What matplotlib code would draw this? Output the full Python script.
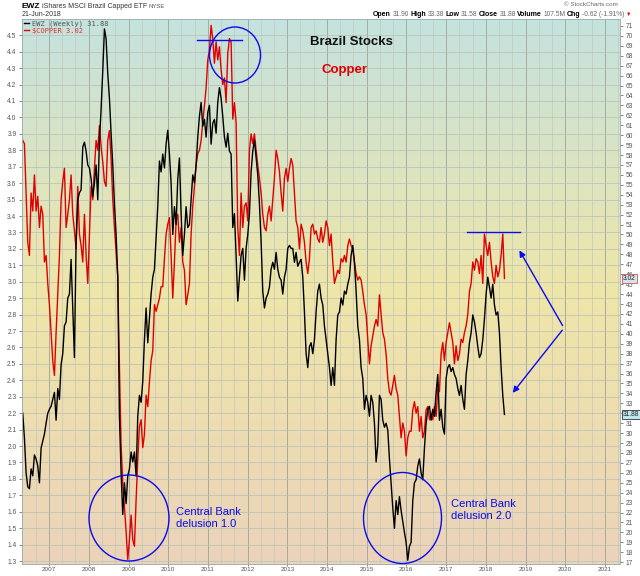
import numpy as np
import pandas as pd
import matplotlib
matplotlib.use("Agg")
import matplotlib.pyplot as plt
import matplotlib.dates as mdates
import matplotlib.transforms as mtransforms
from matplotlib.patches import Ellipse, FancyArrowPatch
from matplotlib.lines import Line2D
from matplotlib.colors import LinearSegmentedColormap

plt.rcParams['font.family'] = ['Liberation Sans', 'DejaVu Sans']

# weekly-ish readings, May 2006 -> 21 Jun 2018
copper = [
    3.86, 3.84, 3.54, 3.24, 3.16, 3.54, 3.43, 3.65, 3.43, 3.52,
    3.33, 3.46, 3.41, 3.12, 3.16, 2.99, 2.86, 2.69, 2.52, 2.43,
    2.69, 2.92, 3.16, 3.50, 3.61, 3.69, 3.33, 3.41, 3.50, 3.65,
    3.41, 3.31, 3.20, 3.58, 3.29, 3.22, 3.12, 3.41, 3.16, 2.99,
    3.29, 3.58, 3.50, 3.69, 3.86, 3.80, 3.95, 3.82, 3.73, 3.61,
    3.58, 3.86, 3.92, 3.75, 3.50, 3.33, 3.18, 3.03, 2.48, 2.01,
    1.77, 1.63, 1.48, 1.31, 1.43, 1.58, 1.43, 1.39, 1.67, 1.92,
    2.12, 2.16, 1.99, 2.07, 2.31, 2.24, 2.39, 2.52, 2.58, 2.86,
    2.82, 2.86, 2.90, 2.97, 2.97, 3.14, 3.29, 3.35, 3.39, 3.16,
    2.90, 3.12, 3.37, 3.41, 3.24, 3.33, 3.12, 3.07, 2.86, 2.92,
    2.99,
    3.29, 3.46, 3.58, 3.71, 3.78, 3.80, 3.86, 3.97, 4.07, 4.18,
    4.35, 4.41, 4.56, 4.48, 4.33, 4.46, 4.35, 4.43, 4.29, 4.20,
    4.24, 4.09, 4.39, 4.48, 4.46, 3.99, 4.09, 3.97, 3.33, 3.16,
    3.54, 3.33, 3.46, 3.48, 3.37, 3.80, 3.90, 3.84, 3.90, 3.80,
    3.71, 3.63, 3.54, 3.41, 3.33, 3.31, 3.41, 3.46, 3.37, 3.50,
    3.63, 3.80, 3.75, 3.67, 3.54, 3.43, 3.63, 3.69, 3.61, 3.69,
    3.75, 3.71, 3.54, 3.37, 3.33, 3.20, 3.35, 3.31, 3.24, 3.12,
    3.05, 3.14, 3.33, 3.35, 3.29, 3.31, 3.26, 3.24, 3.33, 3.24,
    3.29, 3.37, 3.33, 3.22, 3.29, 3.12, 2.99, 3.03, 3.07, 3.05,
    3.14, 3.12, 3.16, 3.12, 3.22, 3.26,
    3.22, 3.20, 3.12, 3.05, 3.01, 3.03, 3.01, 2.94, 2.86, 2.80,
    2.65, 2.50, 2.61, 2.67, 2.73, 2.77, 2.73, 2.92, 2.80, 2.69,
    2.65, 2.56, 2.41, 2.33, 2.31, 2.37, 2.43, 2.35, 2.31, 2.18,
    2.05, 2.14, 2.09, 1.94, 2.05, 2.09, 2.09, 2.22, 2.27, 2.20,
    2.24, 2.09, 2.18, 2.05, 2.09, 2.22, 2.24, 2.16, 2.20, 2.16,
    2.24, 2.18, 2.35, 2.33, 2.56, 2.63, 2.52, 2.63, 2.69, 2.75,
    2.69, 2.63, 2.50, 2.61, 2.52, 2.56, 2.65, 2.63, 2.69, 2.73,
    2.80, 2.94, 2.99, 3.12, 3.07, 3.14, 3.12, 3.05, 3.16, 2.99,
    3.29, 3.22, 3.16, 3.24, 3.12, 3.03, 2.99, 3.10, 3.03, 3.07,
    3.16, 3.29, 3.02,
]

ewz = [
    32.0, 29.5, 26.0, 24.6, 24.4, 26.4, 25.7, 27.8, 27.4, 26.7,
    25.0, 28.5, 29.2, 29.9, 31.0, 32.0, 32.4, 32.7, 33.4, 34.1,
    31.3, 34.5, 33.4, 36.9, 38.0, 40.8, 41.2, 43.6, 44.0, 47.5,
    42.6, 37.6, 49.3, 53.5, 54.2, 54.5, 58.8, 59.3, 58.4, 57.0,
    56.7, 55.6, 53.8, 55.2, 57.0, 53.5, 59.5, 62.6, 66.5, 70.7,
    69.7, 66.2, 63.7, 60.2, 57.0, 53.1, 50.0, 45.7, 31.7, 26.0,
    21.8, 25.0, 22.9, 25.7, 26.4, 28.1, 27.1, 28.1, 25.7, 31.7,
    33.8, 33.1, 35.2, 39.4, 42.6, 39.1, 41.5, 44.0, 45.7, 46.5,
    49.6, 52.8, 57.4, 56.3, 58.1, 56.7, 59.1, 60.5, 58.1, 55.2,
    50.0, 52.8, 51.0, 55.6, 57.7, 52.1, 47.9, 50.0, 52.8, 50.7,
    51.0,
    53.5, 56.0, 55.2, 57.0, 59.8, 61.9, 63.3, 60.9, 61.6, 59.8,
    62.3, 63.0, 59.1, 61.2, 61.6, 60.2, 63.3, 64.8, 63.7, 61.9,
    59.8, 58.8, 60.2, 58.4, 58.1, 50.7, 52.1, 47.9, 43.3, 45.7,
    47.9, 48.6, 45.4, 48.6, 50.0, 52.1, 56.3, 58.4, 59.5, 57.7,
    56.0, 53.1, 49.3, 44.3, 42.6, 43.6, 44.0, 44.7, 46.5, 47.2,
    46.5, 48.2, 46.5, 45.7, 45.4, 44.0, 45.7, 46.5, 48.6, 48.9,
    48.6, 48.6, 47.2, 48.2, 46.8, 47.2, 47.5, 45.7, 42.2, 38.0,
    36.6, 38.7, 39.1, 38.0, 39.4, 42.2, 44.3, 45.0, 43.6, 42.9,
    40.8, 39.4, 38.0, 36.6, 34.8, 36.6, 34.8, 39.4, 41.9, 42.2,
    43.6, 42.9, 44.3, 44.0, 45.0, 45.7,
    47.9, 48.9, 47.2, 44.3, 40.8, 39.4, 36.6, 35.5, 32.4, 33.8,
    33.1, 31.7, 33.8, 33.1, 31.0, 27.1, 28.8, 33.8, 33.4, 31.3,
    30.6, 31.0, 30.3, 27.4, 25.0, 22.5, 20.4, 23.2, 21.8, 23.6,
    22.2, 21.1, 20.0, 19.0, 17.2, 18.6, 19.0, 23.2, 25.0, 25.3,
    26.7, 27.4, 26.0, 25.3, 28.5, 31.0, 32.4, 32.7, 31.3, 32.4,
    31.7, 34.1, 35.9, 31.3, 32.4, 30.6, 29.9, 35.5, 36.6, 36.9,
    36.2, 36.6, 35.9, 35.5, 34.5, 33.8, 34.8, 33.4, 32.4, 35.9,
    37.3, 39.1, 40.1, 41.9, 41.2, 40.1, 38.7, 37.6, 38.0, 39.4,
    41.5, 44.0, 45.7, 44.7, 43.6, 45.0, 42.9, 41.9, 42.2, 40.1,
    36.6, 33.8, 31.88,
]

dates = pd.date_range("2006-05-04", "2018-06-21", periods=len(ewz))

copper_ticks = np.round(np.arange(1.3, 4.55, 0.1), 1)
ewz_ticks = np.arange(17, 72, 1)

W, H = 640, 576
BLUE = '#0a0af0'
RED = '#e00000'


def fx(x):
    return x / W


def fy(y):
    return 1 - y / H


fig = plt.figure(figsize=(6.4, 5.76), dpi=100)
ax = fig.add_axes([fx(22), fy(564), (620 - 22) / W, (564 - 19) / H])

# background gradient teal -> yellow -> peach
cmap = LinearSegmentedColormap.from_list('bg', [(0, '#c4e2df'), (0.5, '#efe6a8'), (1, '#ebd3ba')])
grad = np.linspace(0, 1, 256).reshape(-1, 1)
ax.imshow(grad, extent=[0, 1, 0, 1], transform=ax.transAxes, aspect='auto',
          cmap=cmap, origin='upper', zorder=0)

l_cu, = ax.plot(dates, copper, color=RED, lw=1.0, zorder=3)
ax.set_xlim(pd.Timestamp("2006-04-27"), pd.Timestamp("2021-05-19"))
ax.set_ylim(1.282, 4.599)
ax.set_yticks(copper_ticks)
ax.yaxis.set_major_formatter('{x:.1f}')
ax.xaxis.set_major_locator(mdates.YearLocator())
ax.xaxis.set_major_formatter(mdates.DateFormatter('%Y'))
ax.xaxis.set_minor_locator(mdates.MonthLocator(bymonth=[5, 9]))
ax.set_axisbelow(True)
ax.grid(axis='y', color='#b7bfb6', lw=0.5)
ax.grid(axis='x', which='major', color='#a6aba0', lw=0.7)
ax.grid(axis='x', which='minor', color='#c2c8bd', lw=0.5)
ax.tick_params(axis='y', labelsize=4.8, colors='#555555', length=2.5, width=0.5, pad=1.5)
ax.tick_params(axis='x', which='major', labelsize=4.6, colors='#555555', length=1.5,
               width=0.5, pad=0.5)
ax.tick_params(axis='x', which='minor', length=0)

ax2 = ax.twinx()
l_ewz, = ax2.plot(dates, ewz, color='black', lw=1.0)
ax2.set_ylim(16.82, 71.70)
ax2.set_yticks(ewz_ticks)
ax2.tick_params(axis='y', labelsize=4.8, colors='#555555', length=2.5, width=0.5, pad=1.5)

for a in (ax, ax2):
    for s in a.spines.values():
        s.set_color('#9fb3b3')
        s.set_linewidth(0.6)

leg = ax2.legend([l_ewz, l_cu], [f"EWZ (Weekly) {ewz[-1]:.2f}", f"$COPPER {copper[-1]:.2f}"],
                 loc='upper left', bbox_to_anchor=(0, 1), frameon=False,
                 prop={'family': 'DejaVu Sans Mono', 'size': 5},
                 handlelength=0.8, handletextpad=0.4, labelspacing=0.1,
                 borderaxespad=0.15, borderpad=0.1)
leg.get_texts()[0].set_color('#555555')
leg.get_texts()[1].set_color('#e03030')

# last-value tags on the right axis
tr_cu = mtransforms.blended_transform_factory(fig.transFigure, ax.transData)
tr_ewz = mtransforms.blended_transform_factory(fig.transFigure, ax2.transData)
fig.text(fx(623), copper[-1], f"{copper[-1]:.2f}", transform=tr_cu, va='center', fontsize=4.8,
         color='#222222', bbox=dict(boxstyle='square,pad=0.15', fc='#cfe6ee', ec='#e05050', lw=0.6))
fig.text(fx(623), ewz[-1], f"{ewz[-1]:.2f}", transform=tr_ewz, va='center', fontsize=4.8,
         color='#222222', bbox=dict(boxstyle='square,pad=0.15', fc='#bfe8ee', ec='#333333', lw=0.6))

# header
renderer = fig.canvas.get_renderer()


def pieces(x, y, parts, gap=1.5):
    for txt, kw in parts:
        t = fig.text(fx(x), fy(y), txt, va='center', **kw)
        x += t.get_window_extent(renderer).width + gap


pieces(22, 6, [("EWZ", dict(fontsize=6, weight='bold', color='black')),
               ("iShares MSCI Brazil Capped ETF", dict(fontsize=5, color='#333333')),
               ("NYSE", dict(fontsize=4.3, color='#555555'))])
fig.text(fx(22), fy(14.5), "21-Jun-2018", va='center', fontsize=5, color='#333333')
fig.text(fx(618), fy(5), "\u00a9 StockCharts.com", ha='right', va='center', fontsize=4.5, color='#666666')
lab = dict(fontsize=5, weight='bold', color='black')
val = dict(fontsize=4.8, color='#666666')
pieces(373, 14.5, [("Open", lab), ("31.90", val), ("High", lab), ("33.38", val),
                   ("Low", lab), ("31.58", val), ("Close", lab), ("31.88", val),
                   ("Volume", lab), ("107.5M", val), ("Chg", lab), ("-0.62 (-1.91%)", val),
                   ("\u25bc", dict(fontsize=4, color='#e00000'))])

# annotations
fig.text(fx(351), fy(42), "Brazil Stocks", ha='center', va='center', fontsize=9.5,
         weight='bold', color='#111111')
fig.text(fx(345), fy(69.5), "Copper", ha='center', va='center', fontsize=9.5,
         weight='bold', color=RED)

for cx, cy, w, h in [(129, 518, 80, 86), (235, 55, 51, 56), (402.5, 518, 78, 91)]:
    fig.add_artist(Ellipse((fx(cx), fy(cy)), w / W, h / H, transform=fig.transFigure,
                           fill=False, ec=BLUE, lw=1.0))

for x0, x1, y in [(197, 242, 39.7), (467, 520, 232)]:
    fig.add_artist(Line2D([fx(x0), fx(x1)], [fy(y), fy(y)], transform=fig.transFigure,
                          color=BLUE, lw=1.0))

for tx, ty in [(518, 248), (511, 395)]:
    fig.add_artist(FancyArrowPatch((fx(564), fy(328)), (fx(tx), fy(ty)), transform=fig.transFigure,
                                   arrowstyle='-|>', mutation_scale=9, color=BLUE, lw=1.0))

fig.text(fx(176), fy(518), "Central Bank\ndelusion 1.0", va='center', fontsize=8,
         color=BLUE, linespacing=1.15)
fig.text(fx(451), fy(510), "Central Bank\ndelusion 2.0", va='center', fontsize=8,
         color=BLUE, linespacing=1.15)

fig.savefig("out.png", dpi=100)
